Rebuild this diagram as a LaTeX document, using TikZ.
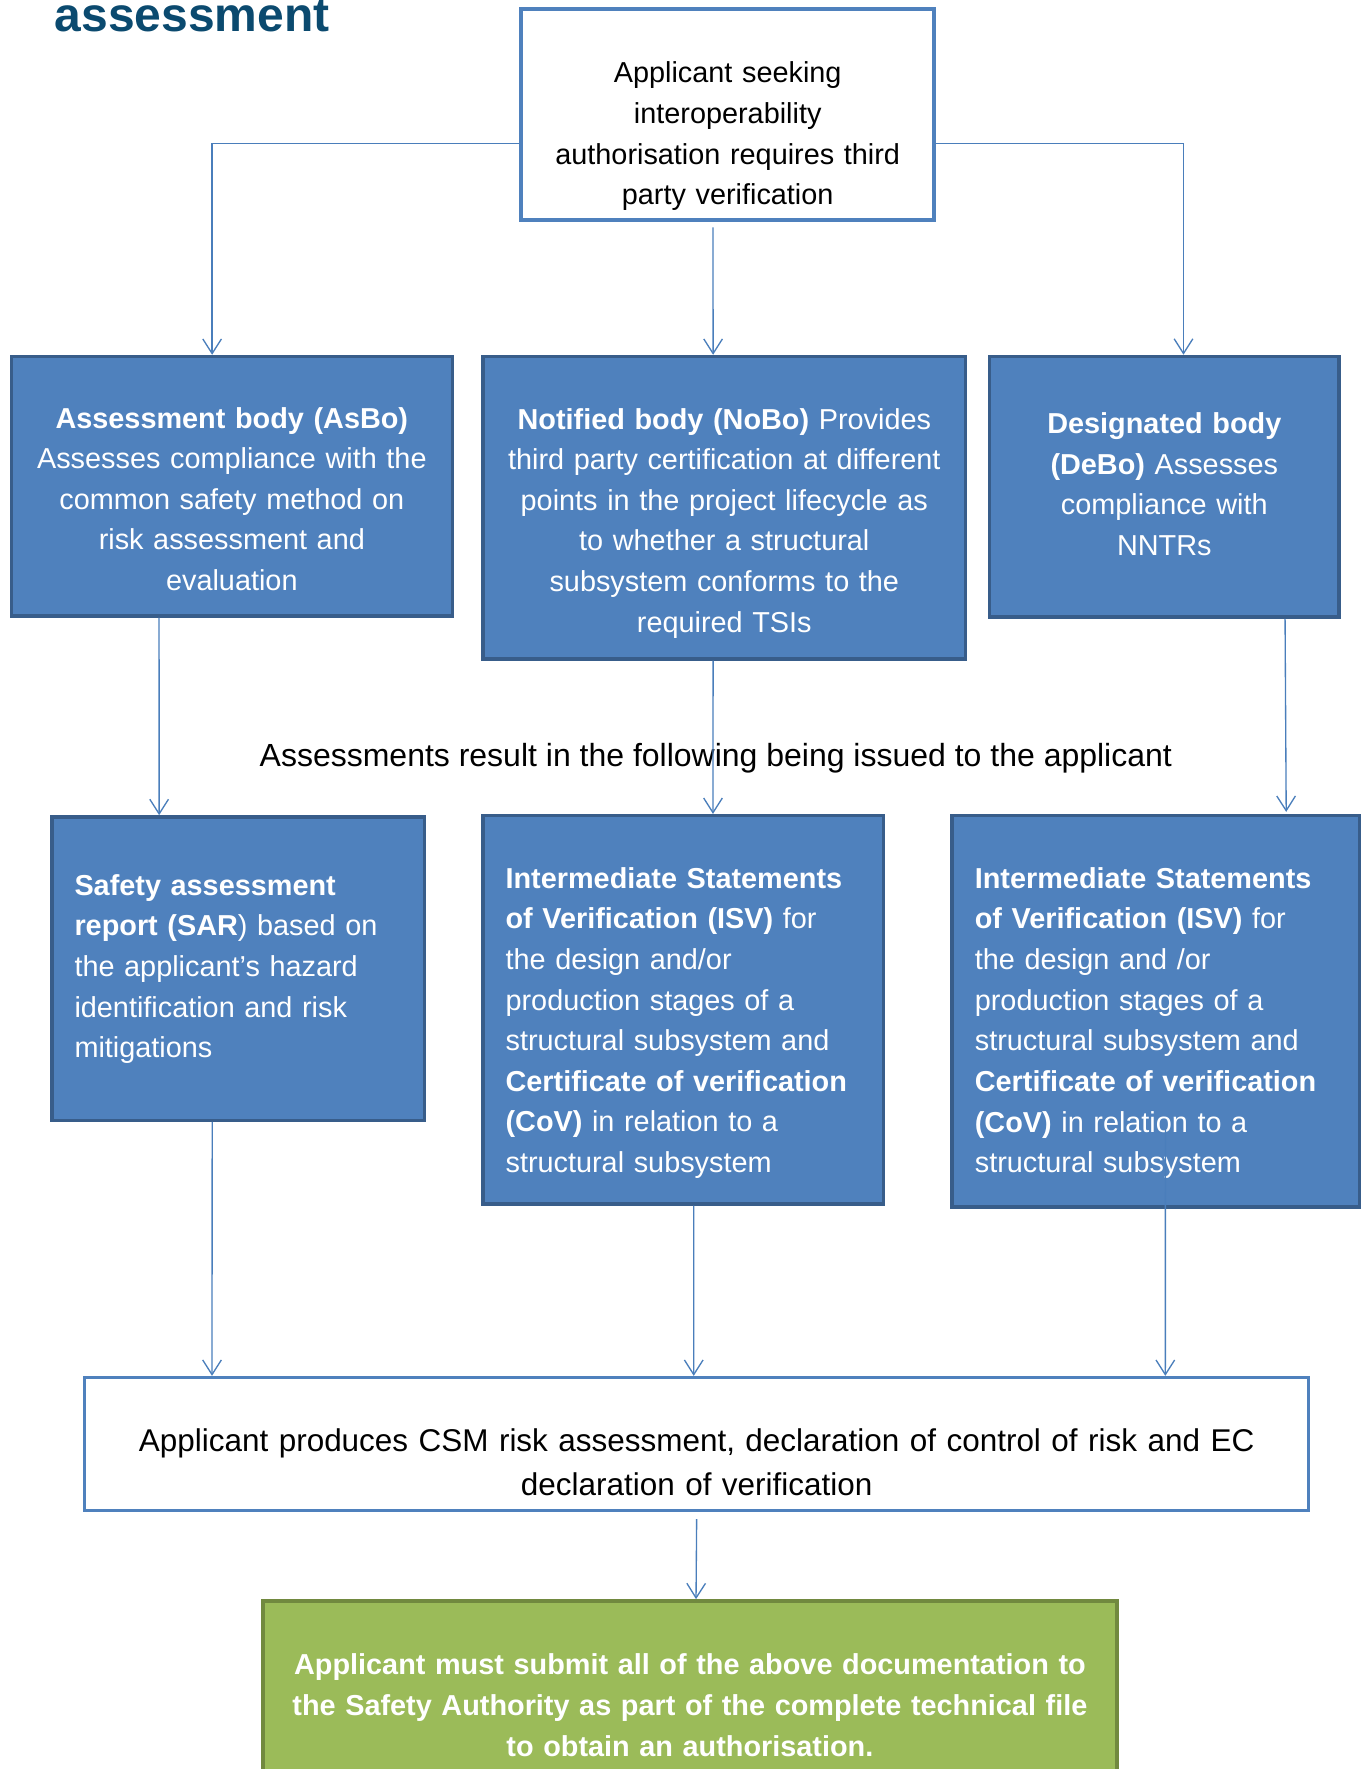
\documentclass[tikz,border=0pt]{standalone}
\usepackage{fontspec}
\setmainfont{Liberation Sans}
\usepackage{tikz}
\usetikzlibrary{arrows.meta,positioning}

\definecolor{linkblue}{HTML}{4A7EBB}
\definecolor{bodyfill}{HTML}{4F81BD}
\definecolor{bodyline}{HTML}{385D8A}
\definecolor{greenfill}{HTML}{9BBB59}
\definecolor{greenline}{HTML}{71893F}
\definecolor{headblue}{HTML}{0B4A6F}
\newcommand{\boxfont}{\fontsize{10.82pt}{15.24pt}\selectfont}
\newcommand{\bigfont}{\fontsize{11.8pt}{16.5pt}\selectfont}

\begin{document}
\begin{tikzpicture}[x=0.4232pt,y=-0.4232pt,
    >={Straight Barb[length=5.5pt,width=7pt]},
    link/.style={->,draw=linkblue,line width=0.5pt},
    plainbox/.style={draw=bodyfill,line width=1.3pt,fill=white,inner sep=0pt,align=center,font=\boxfont},
    bodybox/.style={draw=bodyline,line width=1.3pt,fill=bodyfill,text=white,inner sep=0pt,align=center,font=\boxfont},
    resultbox/.style={bodybox,align=left,inner xsep=8.5pt},
    finalbox/.style={draw=greenline,line width=1.3pt,fill=greenfill,text=white,inner sep=0pt,align=center,font=\boxfont\bfseries}]
      \useasboundingbox (0,0) rectangle (1207,1568);
      \node[font=\fontsize{18pt}{20pt}\selectfont\bfseries,text=headblue,anchor=base west,inner sep=0pt] (heading) at (48,28) {assessment};

      % applicant and the three bodies
      \node[plainbox,text width=154.9pt,text height=27.7pt,text depth=51.4pt] (start) at (645,101.5)
        {Applicant seeking\\ interoperability\\ authorisation requires third\\ party verification};
      \node[bodybox,text width=165.5pt,text height=26.8pt,text depth=70.5pt] (asbo) at (205.5,431)
        {\textbf{Assessment body (AsBo)}\\ Assesses compliance with the\\ common safety method on\\ risk assessment and\\ evaluation};
      \node[bodybox,text width=181.1pt,text height=27.2pt,text depth=86.2pt] (nobo) at (642,450)
        {\textbf{Notified body (NoBo)} Provides\\ third party certification at different\\ points in the project lifecycle as\\ to whether a structural\\ subsystem conforms to the\\ required TSIs};
      \node[bodybox,text width=131.2pt,text height=28.9pt,text depth=68.9pt] (debo) at (1032,431.5)
        {\textbf{Designated body}\\ \textbf{(DeBo)} Assesses\\ compliance with\\ NNTRs};

      \node[font=\fontsize{12pt}{16.5pt}\selectfont,anchor=base,inner sep=0pt] (issued) at (634.5,679)
        {Assessments result in the following being issued to the applicant};

      % what gets issued
      \node[resultbox,text width=122.7pt,text height=29.4pt,text depth=84.4pt] (sar) at (211,858.5)
        {\textbf{Safety assessment}\\ \textbf{report (SAR}) based on\\ the applicant’s hazard\\ identification and risk\\ mitigations};
      \node[resultbox,text width=133.2pt,text height=27.2pt,text depth=118.4pt] (isva) at (605.5,895)
        {\textbf{Intermediate Statements}\\ \textbf{of Verification (ISV)} for\\ the design and/or\\ production stages of a\\ structural subsystem and\\ \textbf{Certificate of verification}\\ \textbf{(CoV)} in relation to a\\ structural subsystem};
      \node[resultbox,text width=135.8pt,text height=27.2pt,text depth=119.6pt] (isvb) at (1024.5,896.5)
        {\textbf{Intermediate Statements}\\ \textbf{of Verification (ISV)} for\\ the design and /or\\ production stages of a\\ structural subsystem and\\ \textbf{Certificate of verification}\\ \textbf{(CoV)} in relation to a\\ structural subsystem};

      \node[plainbox,font=\bigfont,text width=459.2pt,text height=27.8pt,text depth=22.1pt] (docs) at (617.5,1280)
        {Applicant produces CSM risk assessment, declaration of control of risk and EC\\ declaration of verification};
      \node[finalbox,text width=320.4pt,text height=27.7pt,text depth=48.9pt] (final) at (611.5,1509.5)
        {Applicant must submit all of the above documentation to\\ the Safety Authority as part of the complete technical file\\ to obtain an authorisation.};

      % connectors
      \draw[link] ([yshift=-10.8pt]start.west) -| ([xshift=-7.4pt]asbo.north);
      \draw[link] ([xshift=-5.5pt,yshift=-2.1pt]start.south) -- ([xshift=-4.2pt]nobo.north);
      \draw[link] ([yshift=-10.8pt]start.east) -| ([xshift=7.2pt]debo.north);
      \draw[link] ([xshift=-27.3pt]asbo.south) -- ([xshift=-29.6pt]sar.north);
      \draw[link] ([xshift=-4.2pt]nobo.south) -- ([xshift=11.2pt]isva.north);
      \draw[link] ([xshift=45.3pt]debo.south) -- ([xshift=48.9pt,yshift=0.8pt]isvb.north);
      \draw[link] ([xshift=-9.7pt]sar.south) -- ([xshift=-181.8pt]docs.north);
      \draw[link] ([xshift=4pt]isva.south) -- ([xshift=-1.1pt]docs.north);
      \draw[link] ([xshift=3.6pt,yshift=29.6pt]isvb.south) -- ([xshift=175.8pt]docs.north);
      \draw[link] ([yshift=-2.5pt]docs.south) -- ([xshift=2.3pt]final.north);
    \end{tikzpicture}
\end{document}
